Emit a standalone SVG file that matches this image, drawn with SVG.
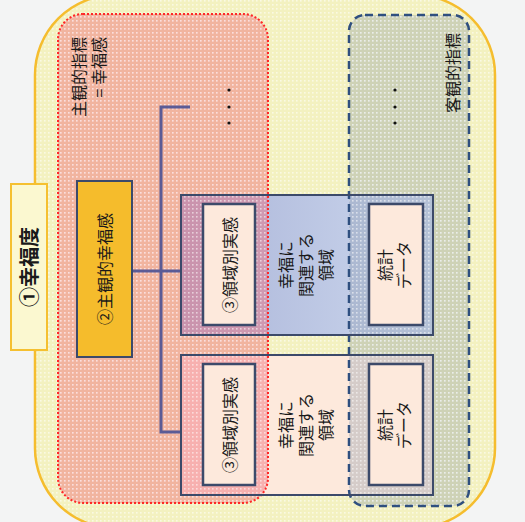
<svg xmlns="http://www.w3.org/2000/svg" width="525" height="522" viewBox="0 0 525 522">
<defs>
<pattern id="dots" width="4" height="4" patternUnits="userSpaceOnUse">
<rect x="0" y="0" width="1.6" height="1.6" fill="#ffffff" fill-opacity="0.55"/>
</pattern>
<linearGradient id="blueGrad" x1="0" y1="0" x2="1" y2="0">
<stop offset="0" stop-color="#aab4d8"/>
<stop offset="1" stop-color="#cdd8ee"/>
</linearGradient>
<style>
text{font-family:"Noto Sans CJK JP","Noto Sans",sans-serif;font-size:16px;fill:#1a1a1a;dominant-baseline:central;}
.mid{text-anchor:middle;}
.end{text-anchor:end;}
.dom{stroke:#3c4a6a;stroke-width:2;fill:none;}
.inner{fill:#fde9dc;stroke:#3c4a6a;stroke-width:2.5;}
.conn{stroke:#5b5b96;stroke-width:3;fill:none;}
</style>
</defs>
<rect width="525" height="522" fill="#f3f4f4"/>

<g id="wellbeing">
<rect x="35" y="-5" width="460" height="533" rx="80" fill="#f3f1c0"/>
<rect x="35" y="-5" width="460" height="533" rx="80" fill="url(#dots)" stroke="#f5bd2e" stroke-width="2.5"/>
</g>

<g id="label-wellbeing">
<rect x="11" y="184" width="36" height="166" fill="#fbf8d0" stroke="#f5c030" stroke-width="2"/>
<text class="mid" transform="translate(28,267) rotate(-90)" style="font-size:20px;font-weight:bold">①幸福度</text>
</g>

<g id="domain-fills">
<rect x="181" y="195" width="252" height="140" fill="url(#blueGrad)"/>
<rect x="181" y="355" width="252" height="140" fill="#fde9dc"/>
</g>

<g id="subjective">
<rect x="58" y="14" width="210" height="489" rx="25" fill="#f06a78" fill-opacity="0.45"/>
<rect x="58" y="14" width="210" height="489" rx="25" fill="url(#dots)" stroke="#ff2828" stroke-width="2" stroke-dasharray="2 2"/>
<text class="end" transform="translate(78,37) rotate(-90)">主観的指標</text>
<text class="end" transform="translate(98,37) rotate(-90)">= 幸福感</text>
<circle cx="229" cy="90" r="1.6" fill="#111"/>
<circle cx="229" cy="107" r="1.6" fill="#111"/>
<circle cx="229" cy="123" r="1.6" fill="#111"/>
</g>

<g id="objective">
<rect x="349" y="15" width="120" height="491" rx="16" fill="#7c8ca0" fill-opacity="0.3"/>
<rect x="349" y="15" width="120" height="491" rx="16" fill="url(#dots)" stroke="#2f4f7f" stroke-width="2.5" stroke-dasharray="8 5"/>
<text class="end" transform="translate(452,33) rotate(-90)">客観的指標</text>
<circle cx="395" cy="90" r="1.6" fill="#111"/>
<circle cx="395" cy="107" r="1.6" fill="#111"/>
<circle cx="395" cy="123" r="1.6" fill="#111"/>
</g>

<g id="connectors">
<polyline class="conn" points="190,107 161,107 161,432 181,432"/>
<line class="conn" x1="132" y1="271" x2="181" y2="271"/>
</g>

<g id="subjective-wellbeing">
<rect x="77" y="181" width="55" height="176" fill="#f5bc2c" stroke="#3c4a6a" stroke-width="2"/>
<text class="mid" transform="translate(104,269) rotate(-90)">②主観的幸福感</text>
</g>

<g id="domain-upper">
<rect class="dom" x="181" y="195" width="252" height="140"/>
<g transform="translate(305,265) rotate(-90)">
<text class="mid" x="0" y="-20">幸福に</text>
<text class="mid" x="0" y="0">関連する</text>
<text class="mid" x="0" y="20">領域</text>
</g>
</g>
<g id="domain-feel-upper">
<rect class="inner" x="203" y="204" width="52" height="121"/>
<text class="mid" transform="translate(229,265) rotate(-90)">③領域別実感</text>
</g>
<g id="stats-upper">
<rect class="inner" x="369" y="204" width="54" height="121"/>
<g transform="translate(393,265) rotate(-90)">
<text class="mid" x="0" y="-9">統計</text>
<text class="mid" x="0" y="10">データ</text>
</g>
</g>

<g id="domain-lower">
<rect class="dom" x="181" y="355" width="252" height="140"/>
<g transform="translate(305,425) rotate(-90)">
<text class="mid" x="0" y="-20">幸福に</text>
<text class="mid" x="0" y="0">関連する</text>
<text class="mid" x="0" y="20">領域</text>
</g>
</g>
<g id="domain-feel-lower">
<rect class="inner" x="203" y="364" width="52" height="121"/>
<text class="mid" transform="translate(229,425) rotate(-90)">③領域別実感</text>
</g>
<g id="stats-lower">
<rect class="inner" x="369" y="364" width="54" height="121"/>
<g transform="translate(393,425) rotate(-90)">
<text class="mid" x="0" y="-9">統計</text>
<text class="mid" x="0" y="10">データ</text>
</g>
</g>
</svg>
